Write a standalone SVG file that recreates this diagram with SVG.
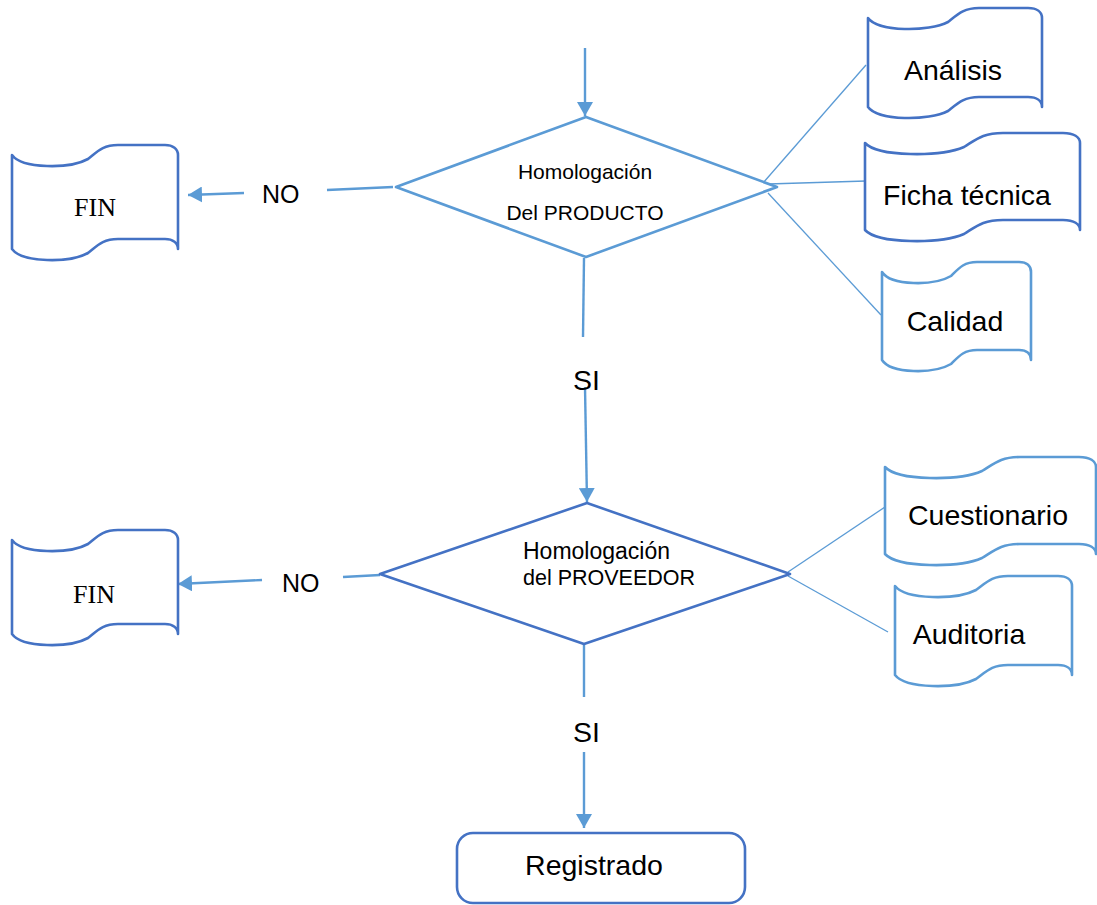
<svg xmlns="http://www.w3.org/2000/svg" width="1097" height="905" viewBox="0 0 1097 905">
  <style>
    .dark { fill: #fff; stroke: #4472C4; stroke-width: 2.6; stroke-linejoin: round; }
    .light { fill: #fff; stroke: #5B9BD5; stroke-width: 2.6; stroke-linejoin: round; }
    .flow { fill: none; stroke: #5B9BD5; stroke-width: 2.4; }
    .thin { fill: none; stroke: #5B9BD5; stroke-width: 1.3; }
    .sans { font-family: "Liberation Sans", Arial, sans-serif; fill: #000; }
    .serif { font-family: "Liberation Serif", "Times New Roman", serif; fill: #000; }
    .big { font-size: 28.5px; }
    .mid { font-size: 25px; }
  </style>
  <defs>
    <marker id="head" markerUnits="userSpaceOnUse" markerWidth="16" markerHeight="16" refX="14" refY="8" orient="auto">
      <path d="M0,0 L14,8 L0,16 Z" fill="#5B9BD5"/>
    </marker>
    <path id="tape-fin" d="M0,10 C10,24 58,24 76,14 C86,6 91,0 106,0 L153,0 C161,0 166,4 166,10 L166,104 C166,98 161,94 153,94 L106,94 C91,94 86,100 76,108 C58,118 10,118 0,104 Z"/>
  </defs>

  <!-- connectors -->
  <g id="connectors">
    <line class="flow" x1="585" y1="48" x2="585" y2="116" marker-end="url(#head)"/>
    <line class="flow" x1="584" y1="258" x2="583" y2="337"/>
    <line class="flow" x1="585" y1="387" x2="587" y2="502" marker-end="url(#head)"/>
    <line class="flow" x1="584" y1="644" x2="584" y2="697"/>
    <line class="flow" x1="584" y1="752" x2="584" y2="828" marker-end="url(#head)"/>
    <line class="flow" x1="393" y1="187" x2="327" y2="190"/>
    <line class="flow" x1="244" y1="193" x2="188" y2="195" marker-end="url(#head)"/>
    <line class="flow" x1="380" y1="575" x2="343" y2="577"/>
    <line class="flow" x1="262" y1="580" x2="178" y2="584" marker-end="url(#head)"/>
    <line class="thin" x1="763" y1="183" x2="866" y2="65"/>
    <line class="thin" x1="768" y1="184" x2="866" y2="181"/>
    <line class="thin" x1="768" y1="193" x2="881" y2="315"/>
    <line class="thin" x1="788" y1="572" x2="885" y2="507"/>
    <line class="thin" x1="788" y1="576" x2="888" y2="632"/>
    <text class="sans mid" x="262" y="203">NO</text>
    <text class="sans mid" x="282" y="592">NO</text>
    <text class="sans big" x="573" y="390">SI</text>
    <text class="sans big" x="573" y="742">SI</text>
  </g>

  <!-- decision: product -->
  <g id="homologacion-producto">
    <polygon class="light" points="586,117 777,187 586,257 396,187"/>
    <text class="sans" font-size="21" x="585" y="179" text-anchor="middle">Homologación</text>
    <text class="sans" font-size="21" x="585" y="220" text-anchor="middle">Del PRODUCTO</text>
  </g>

  <!-- decision: supplier -->
  <g id="homologacion-proveedor">
    <polygon class="dark" points="587,503 790,574 584,644 380,574"/>
    <text class="sans" font-size="23" x="523" y="559">Homologación</text>
    <text class="sans" font-size="21.5" x="523" y="585">del PROVEEDOR</text>
  </g>

  <g id="fin-1">
    <use href="#tape-fin" class="dark" transform="translate(12,145)"/>
    <text class="serif" font-size="26" x="95" y="216" text-anchor="middle">FIN</text>
  </g>

  <g id="fin-2">
    <use href="#tape-fin" class="dark" transform="translate(12,530)"/>
    <text class="serif" font-size="26" x="94" y="603" text-anchor="middle">FIN</text>
  </g>

  <g id="analisis" transform="translate(868,8)">
    <path class="dark" d="M0,10 C10,24 61,24 80,14 C90,6 96,0 111,0 L160,0 C169,0 174,4 174,10 L174,99 C174,93 169,89 160,89 L111,89 C96,89 90,95 80,103 C61,113 10,113 0,99 Z"/>
    <text class="sans big" x="85" y="72" text-anchor="middle">Análisis</text>
  </g>

  <g id="ficha-tecnica" transform="translate(865,133)">
    <path class="dark" d="M0,10 C13,24 75,24 99,14 C112,6 118,0 138,0 L198,0 C209,0 215,4 215,10 L215,97 C215,91 209,87 198,87 L138,87 C118,87 112,93 99,101 C75,111 13,111 0,97 Z"/>
    <text class="sans big" x="102" y="72" text-anchor="middle">Ficha técnica</text>
  </g>

  <g id="calidad" transform="translate(882,262)">
    <path class="light" d="M0,10 C9,24 52,24 69,14 C77,6 82,0 95,0 L137,0 C145,0 149,4 149,10 L149,98 C149,92 145,88 137,88 L95,88 C82,88 77,94 69,102 C52,112 9,112 0,98 Z"/>
    <text class="sans big" x="73" y="69" text-anchor="middle">Calidad</text>
  </g>

  <g id="cuestionario" transform="translate(885,457)">
    <path class="light" d="M0,10 C13,24 74,24 97,14 C110,6 116,0 135,0 L194,0 C205,0 211,4 211,10 L211,97 C211,91 205,87 194,87 L135,87 C116,87 110,93 97,101 C74,111 13,111 0,97 Z"/>
    <text class="sans big" x="103" y="68" text-anchor="middle">Cuestionario</text>
  </g>

  <g id="auditoria" transform="translate(895,576)">
    <path class="light" d="M0,10 C11,24 62,24 81,14 C92,6 97,0 113,0 L163,0 C172,0 177,4 177,10 L177,99 C177,93 172,89 163,89 L113,89 C97,89 92,95 81,103 C62,113 11,113 0,99 Z"/>
    <text class="sans big" x="74" y="68" text-anchor="middle">Auditoria</text>
  </g>

  <g id="registrado">
    <rect class="dark" x="457" y="833" width="288" height="70" rx="16"/>
    <text class="sans big" x="594" y="875" text-anchor="middle">Registrado</text>
  </g>
</svg>
